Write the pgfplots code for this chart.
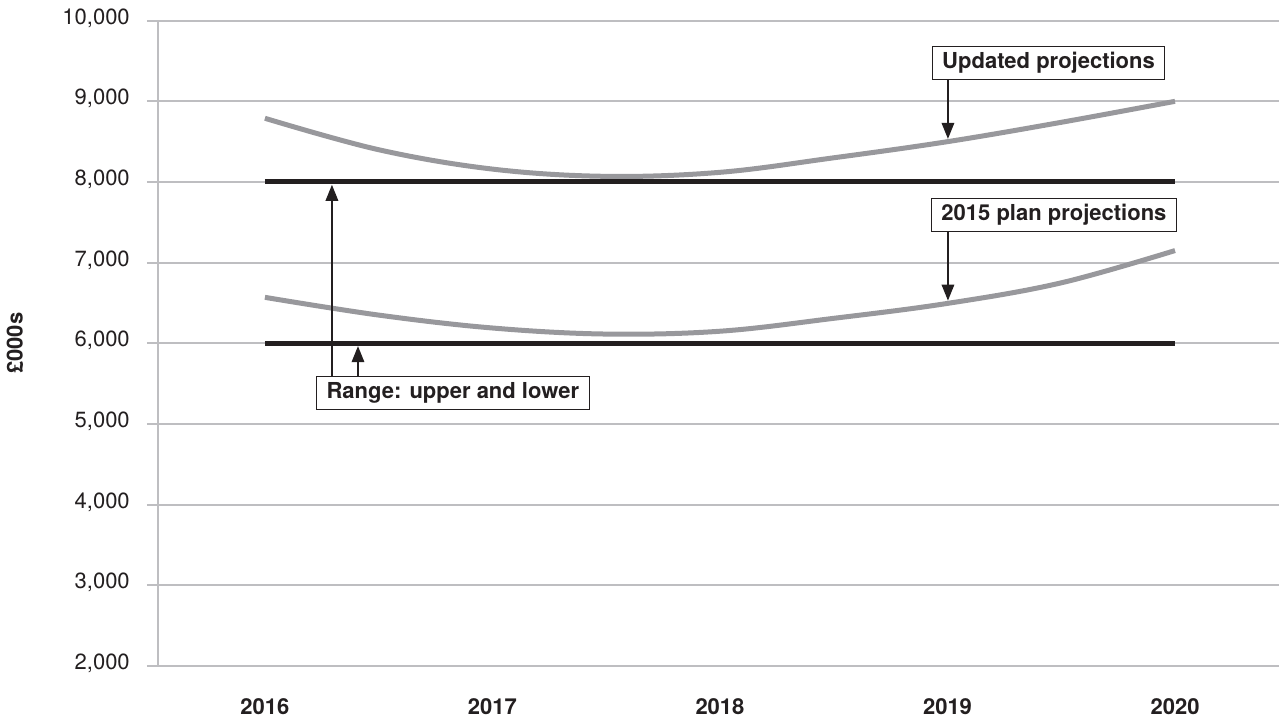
\documentclass[border=0pt]{standalone}
\usepackage{fontspec}
\setmainfont{TeX Gyre Heros}
\usepackage{pgfplots}
\pgfplotsset{compat=1.18}
\usetikzlibrary{arrows.meta}
\definecolor{gridgray}{RGB}{190,190,193}
\definecolor{curvegray}{RGB}{152,152,156}
\definecolor{inkblack}{RGB}{35,31,32}
\newcommand{\chartfont}{\fontsize{16.5}{19.8}\selectfont}
\begin{document}
\begin{tikzpicture}[font=\chartfont]
\begin{axis}[
  at={(0,0)}, anchor=south west,
  scale only axis, width=840.75pt, height=484pt,
  xmin=-0.470, xmax=4.457, ymin=2000, ymax=10000,
  axis x line=bottom, axis y line=left,
  axis line style={-, draw=gridgray, line width=1.3pt},
  xtick={0,1,2,3,4}, xticklabels={2016,2017,2018,2019,2020},
  x tick label style={font=\chartfont\bfseries, text=inkblack, anchor=north, inner sep=0pt, yshift=-15.75pt},
  ytick={2000,3000,4000,5000,6000,7000,8000,9000,10000},
  yticklabels={{2,000},{3,000},{4,000},{5,000},{6,000},{7,000},{8,000},{9,000},{10,000}},
  scaled y ticks=false,
  y tick label style={font=\chartfont, text=inkblack, anchor=east, inner sep=0pt, xshift=-12.75pt, yshift=2pt},
  ymajorgrids, grid style={gridgray, line width=1.3pt},
  tick align=outside, major tick length=8.25pt,
  xtick style={draw=none}, ytick style={gridgray, line width=1.3pt},
  ylabel={\bfseries £000s},
  every axis y label/.style={at={(rel axis cs:0,0.5)}, xshift=-107.25pt, rotate=90, anchor=center, text=inkblack},
  clip=false,
]
% Range upper and lower
\addplot[inkblack, line width=3.75pt] coordinates {(0,8000) (4,8000)};
\addplot[inkblack, line width=3.75pt] coordinates {(0,6000) (4,6000)};
% Updated projections
\addplot[curvegray, line width=3.75pt, smooth, tension=0.6] coordinates {
(0,8790) (0.5,8400) (1,8160) (1.5,8070) (2,8120) (2.5,8300) (3,8500) (3.5,8740) (4,9000)};
% 2015 plan projections
\addplot[curvegray, line width=3.75pt, smooth, tension=0.6] coordinates {
(0,6570) (0.5,6350) (1,6190) (1.5,6115) (2,6150) (2.5,6310) (3,6495) (3.5,6750) (4,7150)};

% annotations
\draw[inkblack, line width=0.9pt, -{Triangle[length=12pt,width=9.5pt]}] (axis cs:0.2945,5596) -- (axis cs:0.2945,7965);
\draw[inkblack, line width=0.9pt, -{Triangle[length=12pt,width=9.5pt]}] (axis cs:0.409,5596) -- (axis cs:0.409,5965);
\node[draw=inkblack, fill=white, line width=0.75pt, inner xsep=7.5pt, minimum height=24.75pt, font=\chartfont\bfseries, text=inkblack] at (axis cs:0.826,5390) {Range: upper and lower};

\draw[inkblack, line width=0.9pt, -{Triangle[length=12pt,width=9.5pt]}] (axis cs:3.002,9277) -- (axis cs:3.002,8535);
\node[draw=inkblack, fill=white, line width=0.75pt, inner xsep=7.5pt, minimum height=24.75pt, font=\chartfont\bfseries, text=inkblack] at (axis cs:3.444,9476) {Updated projections};

\draw[inkblack, line width=0.9pt, -{Triangle[length=12pt,width=9.5pt]}] (axis cs:3.002,7393) -- (axis cs:3.002,6530);
\node[draw=inkblack, fill=white, line width=0.75pt, inner xsep=7.5pt, minimum height=24.75pt, font=\chartfont\bfseries, text=inkblack] at (axis cs:3.468,7597) {2015 plan projections};
\end{axis}
\pgfresetboundingbox
\path[use as bounding box] (-118.5pt,-40.5pt) rectangle (840.75pt,499.5pt);
\end{tikzpicture}
\end{document}
